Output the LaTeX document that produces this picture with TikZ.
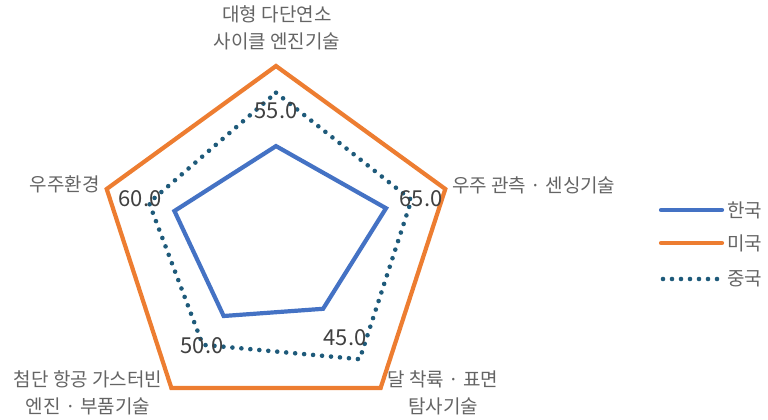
\documentclass[tikz,border=0pt]{standalone}
\usepackage{fontspec}
\setmainfont{Noto Sans CJK KR}
\usetikzlibrary{calc}
\definecolor{koreablue}{RGB}{68,114,196}
\definecolor{usaorange}{RGB}{237,125,49}
\definecolor{chinateal}{RGB}{30,90,122}
\definecolor{labelgray}{RGB}{100,100,100}
\definecolor{valuegray}{RGB}{64,64,64}

\begin{document}
\begin{tikzpicture}[x=1pt, y=1pt,
    korea line/.style={draw=koreablue, line width=4.2pt},
    usa line/.style={draw=usaorange, line width=4.2pt},
    china line/.style={draw=chinateal, line width=4.6pt, line cap=round, dash pattern=on 0pt off 9pt},
    cat label/.style={text=labelgray, font=\fontsize{19}{27}\selectfont, align=center, inner sep=0pt},
    value label/.style={text=valuegray, font=\fontsize{22}{26}\selectfont, inner sep=0pt}]

    \useasboundingbox (-276,-176) rectangle (492,244);

    % category labels
    \node[cat label] (engine) at (1,216) {대형 다단연소\\사이클 엔진기술};
    \node[cat label, anchor=west] (sensing) at (176,59) {우주 관측 · 센싱기술};
    \node[cat label] (moon) at (167,-149) {달 착륙 · 표면\\탐사기술};
    \node[cat label] (turbine) at (-188,-149) {첨단 항공 가스터빈\\엔진 · 부품기술};
    \node[cat label, anchor=east] (environment) at (-176,60) {우주환경};

    % series vertices, clockwise from the top
    \foreach \v [count=\i] in {55,65,45,50,60} {
        \pgfmathsetmacro\ang{90-72*(\i-1)}
        \coordinate (k\i) at (\ang:{1.78*\v});
    }
    \foreach \v [count=\i] in {100,100,100,100,100} {
        \pgfmathsetmacro\ang{90-72*(\i-1)}
        \coordinate (u\i) at (\ang:{1.78*\v});
    }
    \foreach \v [count=\i] in {85,80,80,70,75} {
        \pgfmathsetmacro\ang{90-72*(\i-1)}
        \coordinate (c\i) at (\ang:{1.78*\v});
    }

    \draw[korea line] (k1) -- (k2) -- (k3) -- (k4) -- (k5) -- cycle;
    \draw[usa line] (u1) -- (u2) -- (u3) -- (u4) -- (u5) -- cycle;
    \draw[china line] (c1) -- (c2) -- (c3) -- (c4) -- (c5) -- cycle;

    % data labels
    \node[value label] (v1) at (0,133) {55.0};
    \node[value label] (v2) at (145,45) {65.0};
    \node[value label] (v3) at (69,-94) {45.0};
    \node[value label] (v4) at (-74,-102) {50.0};
    \node[value label] (v5) at (-136,45) {60.0};

    % legend
    \node[cat label, anchor=west] (korea) at (451,34) {한국};
    \node[cat label, anchor=west] (usa) at (451,1) {미국};
    \node[cat label, anchor=west] (china) at (451,-35) {중국};
    \coordinate (korea start) at (385,34);
    \coordinate (usa start) at (385,1);
    \coordinate (china start) at (387,-35);
    \coordinate (china end) at (442,-35);
    \draw[korea line, line cap=round, shorten >=5pt] (korea start) -- (korea.west);
    \draw[usa line, line cap=round, shorten >=5pt] (usa start) -- (usa.west);
    \draw[china line] (china start) -- (china end);

\end{tikzpicture}
\end{document}
